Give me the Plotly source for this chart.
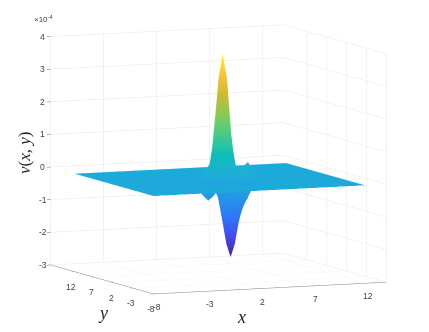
import plotly.graph_objects as go

x_vals = [-8, -2, -1, 0.15, 0.65, 1.05, 1.45, 1.85, 2.25, 2.65, 3.05, 3.45, 3.85, 4.25, 4.65, 5.25, 6.25, 12]
y_vals = [-8, -3, -1, 0, 0.5, 1, 1.5, 2, 2.5, 3, 3.5, 4, 5, 7, 12]
z_rows = [
    [0]*18,
    [0]*18,
    [0, 0, -.02, -.08, -.1, -.08, -.06, -.04, -.03, -.03, -.04, -.07, -.12, -.12, -.08, -.04, 0, 0],
    [0, 0, -.15, -.55, -.42, -.25, -.2, -.3, -.4, -.5, -.55, -.78, -.55, -.28, -.12, -.02, 0, 0],
    [0, 0, -.1, -.42, -.36, -.3, -.45, -.85, -1.4, -1.65, -1.4, -1, -.6, -.32, -.14, -.02, 0, 0],
    [0, 0, -.03, -.15, -.15, -.2, -.5, -1.2, -1.95, -2.35, -1.95, -1.2, -.45, -.2, -.08, 0, 0, 0],
    [0, 0, 0, .03, .08, .05, -.2, -.6, -1.2, -1.55, -1.2, -.6, -.2, -.02, .08, .04, 0, 0],
    [0, 0, 0, .1, .32, .49, .3, .05, .05, .05, .05, .1, .22, .38, .49, .22, .02, 0],
    [0, 0, 0, .06, .22, .38, .32, .6, 1.9, 2.6, 1.9, .65, .25, .28, .38, .15, .01, 0],
    [0, 0, 0, .02, .08, .15, .25, 1.34, 3.05, 3.82, 3.05, 1.34, .25, .1, .15, .05, 0, 0],
    [0, 0, 0, 0, .02, .05, .1, .95, 2.3, 2.95, 2.3, .95, .1, .04, .05, .02, 0, 0],
    [0, 0, 0, 0, 0, .01, .03, .25, .8, 1.1, .8, .25, .03, .01, .01, 0, 0, 0],
    [0, 0, 0, 0, 0, 0, 0, 0, .05, .08, .05, 0, 0, 0, 0, 0, 0, 0],
    [0]*18,
    [0]*18,
]
x_ticks = [-8, -3, 2, 7, 12]
y_ticks = [-8, -3, 2, 7, 12]
z_ticks = [-3, -2, -1, 0, 1, 2, 3, 4]
x_range = [-8, 14]
y_range = [-8, 18]
z_range = [-3, 4]

parula = [
    [0.0, "rgb(62,38,168)"], [0.1, "rgb(71,73,238)"], [0.2, "rgb(46,119,249)"],
    [0.3, "rgb(35,151,229)"], [0.4, "rgb(29,174,216)"], [0.5, "rgb(15,190,186)"],
    [0.6, "rgb(68,203,135)"], [0.7, "rgb(136,204,84)"], [0.8, "rgb(207,186,51)"],
    [0.9, "rgb(254,194,56)"], [1.0, "rgb(249,251,21)"],
]

axis_common = dict(
    showbackground=False, gridcolor="#e6e6e6", gridwidth=1, showspikes=False,
    zeroline=False, title=dict(text=""), ticklen=4, tickwidth=1, tickcolor="#666666",
    showticklabels=False, tickmode="array",
)

W, H, OFF = 421, 324, 8

def label(text, px, py, size, angle=0, family="Liberation Serif", color="#262626"):
    return dict(text=text, x=(px-OFF)/W, y=1-(py-OFF)/H, xref="paper", yref="paper",
                xanchor="center", yanchor="middle", textangle=angle, showarrow=False,
                font=dict(size=size, color=color, family=family))

def tick_text(x, y, z, text, dx, dy):
    return dict(x=x, y=y, z=z, text=text, showarrow=False, xshift=dx, yshift=dy,
                xanchor="center", yanchor="middle",
                font=dict(size=8.5, color="#404040", family="Liberation Sans"))

tick_notes = (
    [tick_text(v, y_range[0], z_range[0], str(v), 3, -13) for v in x_ticks]
    + [tick_text(x_range[0], v, z_range[0], str(v), -3, -15) for v in y_ticks]
    + [tick_text(x_range[0], y_range[1], v, str(v), -8, 0) for v in z_ticks]
)

cx, cy, cz = 0.0, 0.0, -0.066
fig = go.Figure(go.Surface(
    x=x_vals, y=y_vals, z=z_rows, colorscale=parula, showscale=False,
    lighting=dict(ambient=1, diffuse=0, specular=0, fresnel=0),
))
fig.update_layout(
    width=W, height=H, margin=dict(l=0, r=0, t=0, b=0),
    paper_bgcolor="white", showlegend=False,
    scene=dict(
        domain=dict(x=[0, 1], y=[0, 1]),
        aspectmode="manual", aspectratio=dict(x=1.56, y=1.63, z=1.42),
        camera=dict(
            projection=dict(type="orthographic"),
            eye=dict(x=-0.565+cx, y=-1.334+cy, z=0.174+cz), up=dict(x=0, y=0, z=1),
            center=dict(x=cx, y=cy, z=cz),
        ),
        xaxis=dict(axis_common, range=x_range, tickvals=x_ticks, ticks="inside",
                   showline=True, linecolor="#808080"),
        yaxis=dict(axis_common, range=y_range, tickvals=y_ticks, ticks="inside",
                   showline=True, linecolor="#808080"),
        zaxis=dict(axis_common, range=z_range, tickvals=z_ticks, ticks="outside",
                   showline=False),
        annotations=tick_notes,
    ),
    annotations=[
        label("×10<sup>-4</sup>", 43, 19, 8, family="Liberation Sans", color="#404040"),
        label("<i>v</i>(<i>x, y</i>)", 24, 153, 17, angle=-90),
        label("<i>y</i>", 103, 313, 18),
        label("<i>x</i>", 242, 317, 18),
    ],
)
fig.write_html("out.html")
